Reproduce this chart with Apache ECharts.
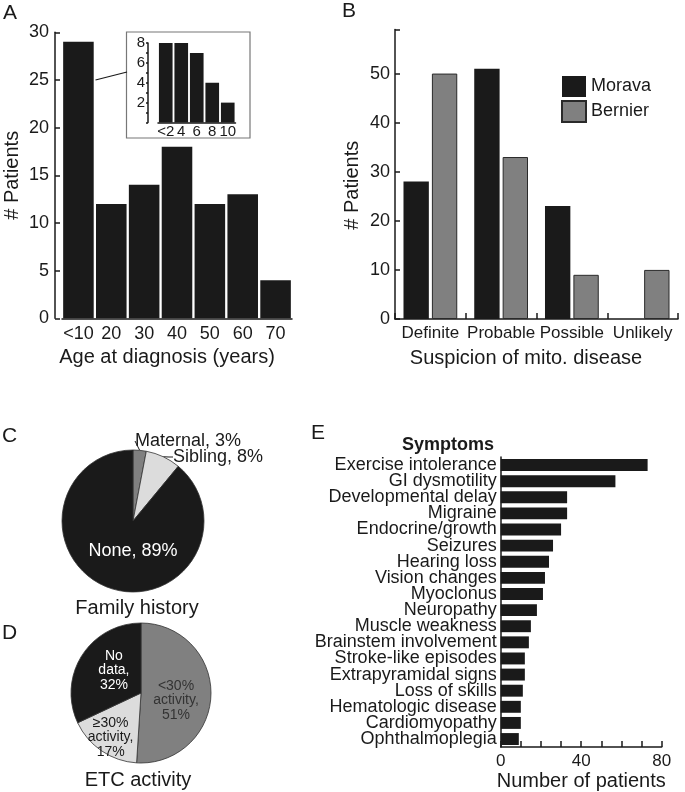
<!DOCTYPE html>
<html>
<head>
<meta charset="utf-8">
<script src="https://cdn.jsdelivr.net/npm/echarts@6/dist/echarts.min.js"></script>
<style>
html,body{margin:0;padding:0;background:#fff;}
#chart{width:685px;height:792px;}
</style>
</head>
<body>
<div id="chart"></div>
<script>
// ---- data ----
const ageCats = ['<10', '20', '30', '40', '50', '60', '70'];
const ageCounts = [29, 12, 14, 18, 12, 13, 4];
const insetCats = ['<2', '4', '6', '8', '10'];
const insetCounts = [8, 8, 7, 4, 2];
const suspicionCats = ['Definite', 'Probable', 'Possible', 'Unlikely'];
const moravaCounts = [28, 51, 23, 0];
const bernierCounts = [50, 33, 9, 10];
const familyNames = ['Maternal', 'Sibling', 'None'];
const familyPct = [3, 8, 89];
const etcNames = ['<30% activity', '≥30% activity', 'No data'];
const etcPct = [51, 17, 32];
const symptomNames = ['Exercise intolerance', 'GI dysmotility', 'Developmental delay', 'Migraine',
  'Endocrine/growth', 'Seizures', 'Hearing loss', 'Vision changes', 'Myoclonus', 'Neuropathy',
  'Muscle weakness', 'Brainstem involvement', 'Stroke-like episodes', 'Extrapyramidal signs',
  'Loss of skills', 'Hematologic disease', 'Cardiomyopathy', 'Ophthalmoplegia'];
const symptomCounts = [73, 57, 33, 33, 30, 26, 24, 22, 21, 18, 15, 14, 12, 12, 11, 10, 10, 9];

// ---- style ----
const FF = 'Liberation Sans, Arial, Helvetica, sans-serif';
const INK = '#1a1a1a';
const GREY = '#808080';
const LIGHT = '#dcdcdc';
const axisLine = { show: true, lineStyle: { color: INK, width: 1.5 } };

const chart = echarts.init(document.getElementById('chart'), null, { renderer: 'canvas' });

function txt(text, x, y, size, align, vAlign, weight) {
  return {
    type: 'text', x: x, y: y, silent: true,
    style: { text: text, fontSize: size, fontFamily: FF, fill: INK,
      align: align || 'left', verticalAlign: vAlign || 'middle', fontWeight: weight || 'normal' }
  };
}

const option = {
  animation: false,
  textStyle: { fontFamily: FF, color: INK },
  legend: {
    data: ['Morava', 'Bernier'], orient: 'vertical', left: 556, top: 71,
    itemWidth: 24, itemHeight: 21, itemGap: 3, icon: 'rect',
    textStyle: { fontSize: 18, color: INK, fontFamily: FF }
  },
  grid: [
    { left: 62, width: 230, top: 32.3, height: 286, containLabel: false },   // A main
    { left: 158, width: 77.5, top: 43, height: 79.5, containLabel: false },   // A inset
    { left: 395, right: 7, top: 29.4, bottom: 473, containLabel: false },      // B
    { left: 500.7, right: 23.3, top: 457, bottom: 43.7, containLabel: false }  // E
  ],
  xAxis: [
    { gridIndex: 0, type: 'category', data: ageCats, axisLine: axisLine, axisTick: { show: false },
      axisLabel: { interval: 0, fontSize: 18, color: INK, margin: 7 },
      name: 'Age at diagnosis (years)', nameLocation: 'middle', nameGap: 29,
      nameTextStyle: { fontSize: 20, color: INK, padding: [0, 20, 0, 0] } },
    { gridIndex: 1, type: 'category', data: insetCats, axisLine: axisLine, axisTick: { show: false },
      axisLabel: { interval: 0, fontSize: 15, color: INK, margin: 2 } },
    { gridIndex: 2, type: 'category', data: suspicionCats, axisLine: axisLine,
      axisTick: { show: true, inside: true, length: 6, lineStyle: { color: INK, width: 1.5 } },
      axisLabel: { interval: 0, fontSize: 17, color: INK, margin: 6 },
      name: 'Suspicion of mito. disease', nameLocation: 'middle', nameGap: 29,
      nameTextStyle: { fontSize: 20, color: INK, padding: [0, 21, 0, 0] } },
    { gridIndex: 3, type: 'value', min: 0, max: 80, interval: 10, axisLine: axisLine,
      splitLine: { show: false },
      axisTick: { show: true, inside: true, length: 6, lineStyle: { color: INK, width: 1.5 } },
      axisLabel: { fontSize: 17, color: INK, margin: 6, formatter: v => (v % 40 === 0 ? String(v) : '') },
      name: 'Number of patients', nameLocation: 'middle', nameGap: 21,
      nameTextStyle: { fontSize: 20, color: INK } }
  ],
  yAxis: [
    { gridIndex: 0, type: 'value', min: 0, max: 30, interval: 5, offset: 7, axisLine: axisLine,
      splitLine: { show: false },
      axisTick: { show: true, inside: true, length: 5, lineStyle: { color: INK, width: 1.5 } },
      axisLabel: { fontSize: 18, color: INK, margin: 6 },
      name: '# Patients', nameLocation: 'middle', nameGap: 33,
      nameTextStyle: { fontSize: 20, color: INK } },
    { gridIndex: 1, type: 'value', min: 0, max: 8, interval: 1, offset: 10, axisLine: axisLine,
      splitLine: { show: false },
      axisTick: { show: true, inside: false, length: 2, lineStyle: { color: INK, width: 1.5 } },
      axisLabel: { fontSize: 15, color: INK, margin: 3, formatter: v => (v > 0 && v % 2 === 0 ? String(v) : '') } },
    { gridIndex: 2, type: 'value', min: 0, max: 59, interval: 10, axisLine: axisLine,
      splitLine: { show: false },
      axisTick: { show: true, inside: true, length: 5, lineStyle: { color: INK, width: 1.5 } },
      axisLabel: { fontSize: 18, color: INK, margin: 5, formatter: v => (v % 10 === 0 ? String(v) : '') },
      name: '# Patients', nameLocation: 'middle', nameGap: 33,
      nameTextStyle: { fontSize: 20, color: INK, padding: [0, 22, 0, 0] } },
    { gridIndex: 3, type: 'category', data: symptomNames, inverse: true, axisLine: axisLine,
      axisTick: { show: false },
      axisLabel: { interval: 0, fontSize: 18, color: INK, margin: 4 } }
  ],
  series: [
    { type: 'bar', xAxisIndex: 0, yAxisIndex: 0, data: ageCounts, barCategoryGap: '7%',
      itemStyle: { color: INK } },
    { type: 'bar', xAxisIndex: 1, yAxisIndex: 1, data: insetCounts, barCategoryGap: '12%',
      itemStyle: { color: INK } },
    { type: 'bar', name: 'Morava', xAxisIndex: 2, yAxisIndex: 2, data: moravaCounts,
      barCategoryGap: '24%', barGap: '12%',
      itemStyle: { color: INK, borderWidth: 0 } },
    { type: 'bar', name: 'Bernier', xAxisIndex: 2, yAxisIndex: 2, data: bernierCounts,
      barCategoryGap: '24%', barGap: '12%',
      itemStyle: { color: GREY, borderColor: '#2a2a2a', borderWidth: 1 } },
    { type: 'bar', xAxisIndex: 3, yAxisIndex: 3, data: symptomCounts, barCategoryGap: '26%',
      itemStyle: { color: INK } },
    { type: 'pie', center: [133, 521], radius: 71, startAngle: 90, clockwise: true,
      data: familyNames.map((n, i) => ({
        name: n, value: familyPct[i],
        itemStyle: { color: [GREY, LIGHT, INK][i] },
        label: i === 2 ? { position: 'inside', color: '#fff' } : { position: 'outside', color: INK },
        labelLine: { show: i !== 2 }
      })),
      itemStyle: { borderColor: '#333', borderWidth: 0.8 },
      label: { fontSize: 18, fontFamily: FF, formatter: p => p.name + ', ' + p.value + '%' },
      labelLine: { length: 4, length2: 4, lineStyle: { color: INK, width: 1 } },
      labelLayout: function (p) {
        if (p.dataIndex === 0) return { x: 135, y: 441, align: 'left', verticalAlign: 'middle' };
        if (p.dataIndex === 1) return { x: 173, y: 457, align: 'left', verticalAlign: 'middle' };
        return { dx: 13, dy: -6 };
      }
    },
    { type: 'pie', center: [141, 693], radius: 70, startAngle: 90, clockwise: true,
      data: etcNames.map((n, i) => ({
        name: n, value: etcPct[i],
        itemStyle: { color: [GREY, LIGHT, INK][i] },
        label: { color: ['#333', INK, '#fff'][i] }
      })),
      itemStyle: { borderColor: '#333', borderWidth: 0.8 },
      label: { position: 'inside', fontSize: 14, lineHeight: 14.5, fontFamily: FF,
        formatter: p => p.name.split(' ').join('\n') + ',\n' + p.value + '%' },
      labelLine: { show: false },
      labelLayout: function (p) {
        if (p.dataIndex === 0) return { dx: -3, dy: 6 };
        if (p.dataIndex === 1) return { dx: -9, dy: 13 };
        return { dx: 5, dy: -2 };
      }
    }
  ],
  graphic: [
    { type: 'rect', shape: { x: 126.5, y: 32, width: 123.5, height: 106 }, silent: true,
      style: { fill: 'transparent', stroke: '#777', lineWidth: 1.2 } },
    { type: 'line', shape: { x1: 95.5, y1: 80, x2: 127, y2: 72 }, silent: true,
      style: { stroke: INK, lineWidth: 1.2 } },
    txt('A', 3, 13, 21),
    txt('B', 342, 11, 21),
    txt('C', 2, 436, 21),
    txt('D', 2, 633, 21),
    txt('E', 311, 433, 21),
    txt('Family history', 137, 608, 20, 'center'),
    txt('ETC activity', 138, 780, 20, 'center'),
    txt('Symptoms', 494, 445, 18, 'right', 'middle', 'bold')
  ]
};
chart.setOption(option);
</script>
</body>
</html>
